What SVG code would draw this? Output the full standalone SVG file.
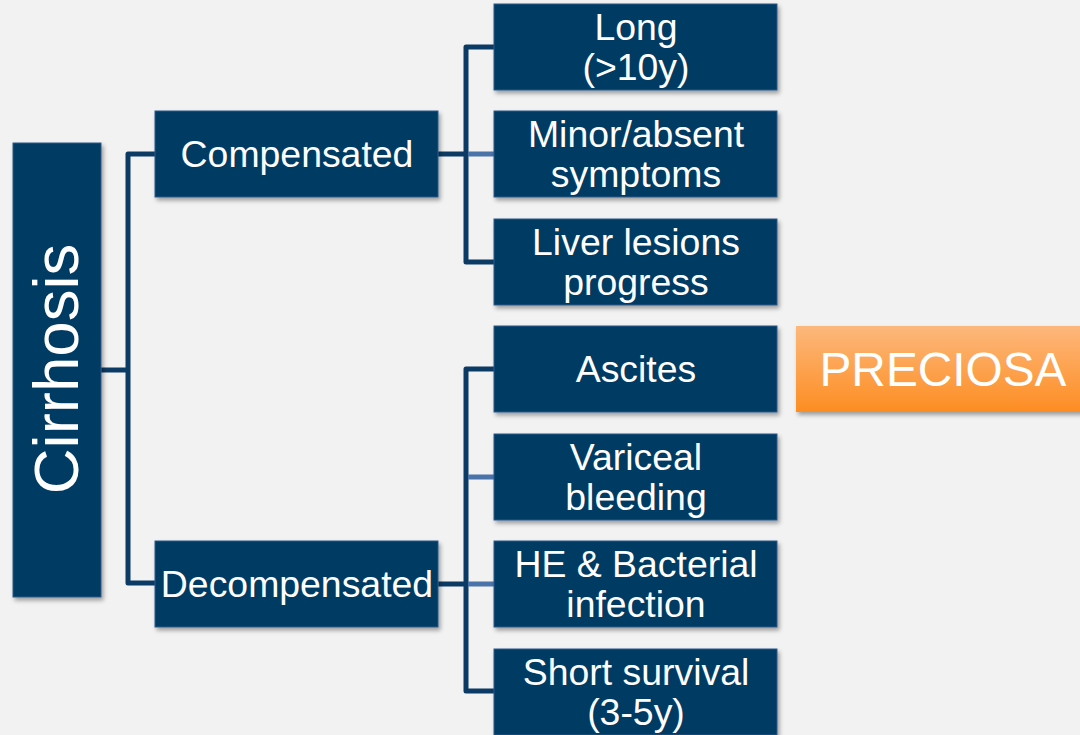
<svg xmlns="http://www.w3.org/2000/svg" width="1080" height="735" viewBox="0 0 1080 735">
<defs>
<filter id="sh" x="-10%" y="-10%" width="130%" height="130%">
<feDropShadow dx="2" dy="3" stdDeviation="2" flood-color="#000" flood-opacity="0.35"/>
</filter>
<linearGradient id="og" x1="0" y1="0" x2="0" y2="1">
<stop offset="0" stop-color="#fdb87c"/>
<stop offset="1" stop-color="#fd8d22"/>
</linearGradient>
<style>
.box{fill:#003a63;stroke:#2d5a8a;stroke-width:1;filter:url(#sh)}
.t{font-family:"Liberation Sans",Arial,sans-serif;fill:#fff;text-anchor:middle}
.m{font-size:37.4px}
.c{fill:none;stroke:#0b3b64;stroke-width:5;stroke-linejoin:round}
.l{fill:none;stroke:#4a73aa;stroke-width:5}
</style>
</defs>
<rect width="1080" height="735" fill="#f2f2f2"/>
<g id="connectors">
<path class="c" d="M101 370 H128 M155 154 H128 V583 H155"/>
<path class="c" d="M438 154 H466 M494 47 H466 V262 H494"/>
<path class="l" d="M468 154 H494"/>
<path class="c" d="M438 584 H466 M494 369 H466 V691 H494"/>
<path class="l" d="M468 477 H494 M468 584 H494"/>
</g>
<g id="cirrhosis">
<rect class="box" x="13" y="143" width="88" height="454"/>
<text class="t" transform="translate(78 369) rotate(-90)" font-size="63.5">Cirrhosis</text>
</g>
<g id="compensated">
<rect class="box" x="155" y="111" width="283" height="86"/>
<text class="t m" x="297" y="167">Compensated</text>
</g>
<g id="decompensated">
<rect class="box" x="155" y="541" width="283" height="86"/>
<text class="t m" x="297" y="597">Decompensated</text>
</g>
<g id="long">
<rect class="box" x="494" y="4" width="283" height="86"/>
<text class="t m" x="636" y="40">Long</text>
<text class="t m" x="636" y="80">(&gt;10y)</text>
</g>
<g id="minor">
<rect class="box" x="494" y="111" width="283" height="86"/>
<text class="t m" x="636" y="147">Minor/absent</text>
<text class="t m" x="636" y="187">symptoms</text>
</g>
<g id="liver">
<rect class="box" x="494" y="219" width="283" height="86"/>
<text class="t m" x="636" y="255">Liver lesions</text>
<text class="t m" x="636" y="295">progress</text>
</g>
<g id="ascites">
<rect class="box" x="494" y="326" width="283" height="86"/>
<text class="t m" x="636" y="382">Ascites</text>
</g>
<g id="variceal">
<rect class="box" x="494" y="434" width="283" height="86"/>
<text class="t m" x="636" y="470">Variceal</text>
<text class="t m" x="636" y="510">bleeding</text>
</g>
<g id="he">
<rect class="box" x="494" y="541" width="283" height="86"/>
<text class="t m" x="636" y="577">HE &amp; Bacterial</text>
<text class="t m" x="636" y="617">infection</text>
</g>
<g id="short">
<rect class="box" x="494" y="649" width="283" height="86"/>
<text class="t m" x="636" y="685">Short survival</text>
<text class="t m" x="636" y="725">(3-5y)</text>
</g>
<g id="preciosa">
<rect x="796" y="326" width="290" height="86" fill="url(#og)" filter="url(#sh)"/>
<text class="t" x="943" y="386" font-size="47.8">PRECIOSA</text>
</g>
</svg>
